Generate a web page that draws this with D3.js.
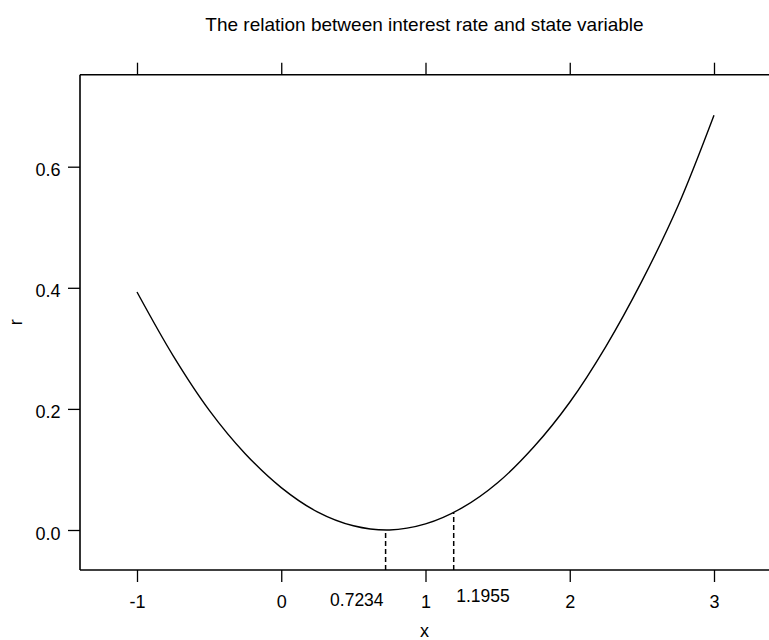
<!DOCTYPE html>
<html>
<head>
<meta charset="utf-8">
<script src="https://cdn.jsdelivr.net/npm/d3@7"></script>
<style>
  html, body { margin: 0; padding: 0; background: #fff; }
  svg { display: block; font-family: "Liberation Sans", Arial, Helvetica, sans-serif; }
</style>
</head>
<body>
<svg id="chart" width="769" height="640"></svg>
<script>
// State variable x and the resulting interest rate r
const xValues = [-1, -0.75, -0.5, -0.25, 0, 0.25, 0.5, 0.75, 1, 1.25, 1.5, 1.75, 2, 2.25, 2.5, 2.75, 3];
const rValues = [0.393, 0.288, 0.198, 0.126, 0.070, 0.030, 0.007, 0.000, 0.010, 0.036, 0.078, 0.137, 0.211, 0.303, 0.411, 0.535, 0.685];

// Marked state values and the rate on the curve at each of them
const markX = [0.7234, 1.1955];
const markR = [0.000, 0.029];
const markLabels = ["0.7234", "1.1955"];

const xTicks = [-1, 0, 1, 2, 3];
const xTickLabels = ["-1", "0", "1", "2", "3"];
const yTicks = [0, 0.2, 0.4, 0.6];
const yTickLabels = ["0.0", "0.2", "0.4", "0.6"];

const plot = { left: 80, right: 769, top: 74.7, bottom: 570 };

const svg = d3.select("#chart");

const x = d3.scaleLinear().domain([-1, 3]).range([137, 714]);
const y = d3.scaleLinear().domain([0, 0.6]).range([530, 166.7]);

// Title
svg.append("text")
  .attr("x", (plot.left + plot.right) / 2)
  .attr("y", 31)
  .attr("text-anchor", "middle")
  .attr("font-size", 19)
  .text("The relation between interest rate and state variable");

// Frame lines: left, top, bottom
const frame = svg.append("g").attr("stroke", "#000").attr("stroke-width", 1.6);
frame.append("line").attr("x1", plot.left).attr("x2", plot.left).attr("y1", plot.top).attr("y2", plot.bottom);
frame.append("line").attr("x1", plot.left).attr("x2", plot.right).attr("y1", plot.top).attr("y2", plot.top);
frame.append("line").attr("x1", plot.left).attr("x2", plot.right).attr("y1", plot.bottom).attr("y2", plot.bottom);

// Bottom axis
const xAxis = svg.append("g")
  .attr("transform", `translate(0,${plot.bottom})`)
  .call(d3.axisBottom(x).tickValues(xTicks).tickSize(12).tickSizeOuter(0)
    .tickFormat((d, i) => xTickLabels[i]));
xAxis.select(".domain").remove();
xAxis.selectAll(".tick line").attr("stroke", "#000").attr("stroke-width", 1.3);
xAxis.selectAll(".tick text")
  .attr("y", 38).attr("dy", null)
  .attr("font-size", 18).attr("font-family", null).attr("fill", "#000");

// Top axis (ticks only)
const xTop = svg.append("g")
  .attr("transform", `translate(0,${plot.top})`)
  .call(d3.axisTop(x).tickValues(xTicks).tickSize(12).tickSizeOuter(0).tickFormat(""));
xTop.select(".domain").remove();
xTop.selectAll(".tick line").attr("stroke", "#000").attr("stroke-width", 1.3);

// Left axis
const yAxis = svg.append("g")
  .attr("transform", `translate(${plot.left},0)`)
  .call(d3.axisLeft(y).tickValues(yTicks).tickSize(12).tickSizeOuter(0)
    .tickFormat((d, i) => yTickLabels[i]));
yAxis.select(".domain").remove();
yAxis.selectAll(".tick line").attr("stroke", "#000").attr("stroke-width", 1.3);
yAxis.selectAll(".tick text")
  .attr("x", -19.5).attr("dy", "0.5em")
  .attr("font-size", 18).attr("font-family", null).attr("fill", "#000");

// Axis titles
svg.append("text")
  .attr("x", (plot.left + plot.right) / 2)
  .attr("y", 637)
  .attr("text-anchor", "middle")
  .attr("font-size", 18)
  .text("x");
svg.append("text")
  .attr("transform", `translate(22,${(plot.top + plot.bottom) / 2}) rotate(-90)`)
  .attr("text-anchor", "middle")
  .attr("font-size", 18)
  .text("r");

// Curve
const pts = xValues.map((v, i) => [v, rValues[i]]);
svg.append("path")
  .datum(pts)
  .attr("fill", "none")
  .attr("stroke", "#000")
  .attr("stroke-width", 1.4)
  .attr("d", d3.line().x(d => x(d[0])).y(d => y(d[1])).curve(d3.curveCatmullRom.alpha(0.5)));

// Dashed drop lines at the marked state values
svg.append("g").selectAll("line")
  .data(markX)
  .join("line")
  .attr("x1", d => x(d)).attr("x2", d => x(d))
  .attr("y1", plot.bottom)
  .attr("y2", (d, i) => y(markR[i]))
  .attr("stroke", "#000")
  .attr("stroke-width", 1.5)
  .attr("stroke-dasharray", "5,3");

// Labels for the marked values
svg.append("g").selectAll("text")
  .data(markX)
  .join("text")
  .attr("x", (d, i) => i === 0 ? x(d) - 2 : x(d) + 2.5)
  .attr("y", (d, i) => i === 0 ? 606 : 602)
  .attr("text-anchor", (d, i) => i === 0 ? "end" : "start")
  .attr("font-size", 17.5)
  .text((d, i) => markLabels[i]);
</script>
</body>
</html>
